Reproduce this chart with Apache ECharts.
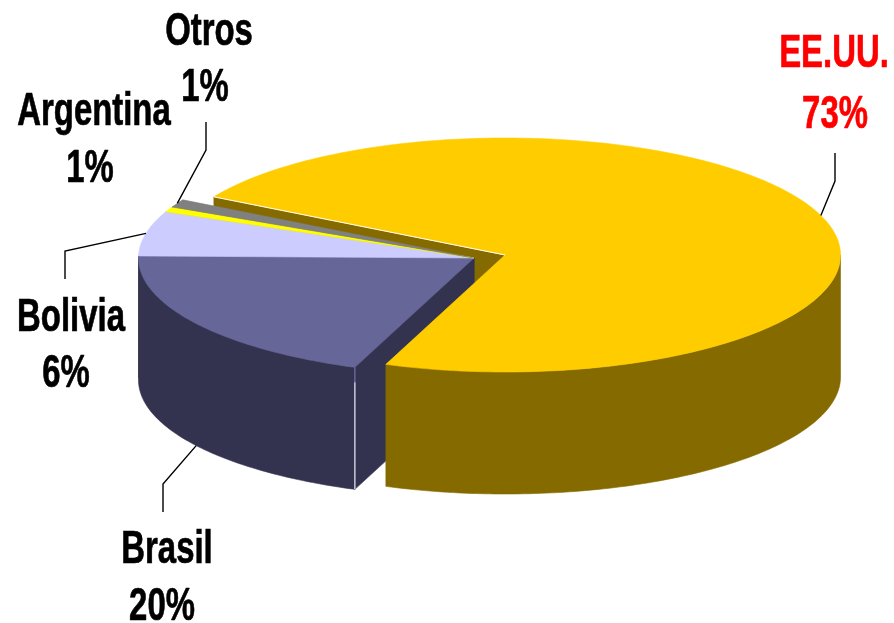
<!DOCTYPE html>
<html><head><meta charset="utf-8">
<style>html,body{margin:0;padding:0;background:#fff}#c{width:894px;height:623px}</style>
<script src="https://cdn.jsdelivr.net/npm/echarts@6/dist/echarts.min.js"></script>
</head><body><div id="c"></div>
<script>
// Data, in drawing order (clockwise)
const categories = ['Brasil', 'Bolivia', 'Argentina', 'Otros', 'EE.UU.'];
const shares = [19.5, 6.2, 0.7, 1.1, 72.5];
// Styles
const topColors = ['#666699', '#CCCCFF', '#FFFF00', '#808080', '#FFCC00'];
const sideColors = ['#333350', '#333350', '#808000', '#404040', '#856A00'];
const labelColors = ['#000', '#000', '#000', '#000', '#FF0000'];
// Layout
const START = 200.8, RX = 335.5, RY = 117, DEPTH = 122;
const CENTER_MAIN = [505, 255], CENTER_REST = [474, 258];
const MAIN = 4;
const FONT = 'bold 46px "Liberation Sans", Arial, sans-serif', SCALE_X = 0.715;
// name centre x, name y, value centre x, value y
const labelPos = [[167,550],[71,318],[94,112],[209,32],[834,54]];
const valuePos = [[162,607],[66,374],[90,169],[205,88],[835,115]];
// leader: [knee x, knee y, end x, end y]; null = no leader
const leaders = [[163,484,163,512],[65,251,65,279],null,[206,150,206,122],[835,181,835,153]];

const rad = d => d * Math.PI / 180;
const total = shares.reduce((a, b) => a + b, 0);
const bounds = [];
shares.reduce((acc, v, i) => { const n = acc + v / total * 360; bounds[i] = [acc, n]; return n; }, START);

function pt(c, th, dy) {
  return [c[0] + RX * Math.sin(rad(th)), c[1] - RY * Math.cos(rad(th)) + (dy || 0)];
}
function arc(c, a, b, dy) {
  const out = [], n = Math.max(2, Math.ceil(Math.abs(b - a)));
  for (let k = 0; k <= n; k++) out.push(pt(c, a + (b - a) * k / n, dy));
  return out;
}
function poly(points, fill, z2, stroke) {
  return { type: 'polygon', z2, shape: { points }, style: { fill, stroke: stroke || fill, lineWidth: 0.6 }, silent: true };
}
function line(points, color, width, z2) {
  return { type: 'polyline', z2, shape: { points }, style: { fill: null, stroke: color, lineWidth: width }, silent: true };
}
function text(str, x, y, color) {
  return { type: 'text', x, y, scaleX: SCALE_X, z2: 40, silent: true,
    style: { text: str, font: FONT, fill: color, stroke: color, lineWidth: 0.7, align: 'center', verticalAlign: 'middle' } };
}

function renderItem(params, api) {
  const i = params.dataIndex, isMain = i === MAIN;
  const c = isMain ? CENTER_MAIN : CENTER_REST;
  const [a, b] = bounds[i];
  const top = topColors[i], side = sideColors[i];
  const kids = [];
  // start cut face
  if (Math.sin(rad(a)) < 0) {
    const p = pt(c, a), base = [c[0], c[1] + DEPTH];
    kids.push(poly([c, p, [p[0], p[1] + DEPTH], base], side, isMain ? 1 : 6 - i));
  }
  // outer wall: only the part that faces the viewer
  [[90, 270], [450, 630]].forEach(([lo, hi]) => {
    const s = Math.max(a, lo), e = Math.min(b, hi);
    if (e > s) kids.push(poly(arc(c, s, e).concat(arc(c, e, s, DEPTH)), side, isMain ? 20 : 7));
  });
  // top
  kids.push(poly([c].concat(arc(c, a, b)), top, isMain ? 21 : 10 + i));
  if (isMain) {
    kids.push(line([pt(c, a), c], '#fff', 1, 22));
  }
  if (i === 0) {
    const p = pt(c, a);
    kids.push(line([p, [p[0], p[1] + 15]], '#666699', 1.5, 12));
    kids.push(line([[p[0], p[1] + 15], [p[0], p[1] + DEPTH]], '#C8C8D8', 1.5, 12));
  }
  // leader, anchored at the slice's mid-angle
  const l = leaders[i];
  if (l) {
    const mid = (a + b) / 2;
    const front = Math.cos(rad(mid)) < 0 && i === 0;
    const anchor = pt(c, mid, front ? DEPTH : 0);
    kids.push(line([anchor, [l[0], l[1]], [l[2], l[3]]], '#000', 1.4, 30));
  }
  // labels
  const col = labelColors[i];
  kids.push(text(categories[i], labelPos[i][0], labelPos[i][1], col));
  kids.push(text(Math.round(shares[i]) + '%', valuePos[i][0], valuePos[i][1], col));
  return { type: 'group', children: kids };
}

const chart = echarts.init(document.getElementById('c'), null, { renderer: 'canvas' });
chart.setOption({
  backgroundColor: '#fff',
  animation: false,
  series: [{
    type: 'custom',
    coordinateSystem: 'none',
    renderItem,
    data: categories.map((name, i) => ({ name, value: shares[i] }))
  }]
});
</script></body></html>
